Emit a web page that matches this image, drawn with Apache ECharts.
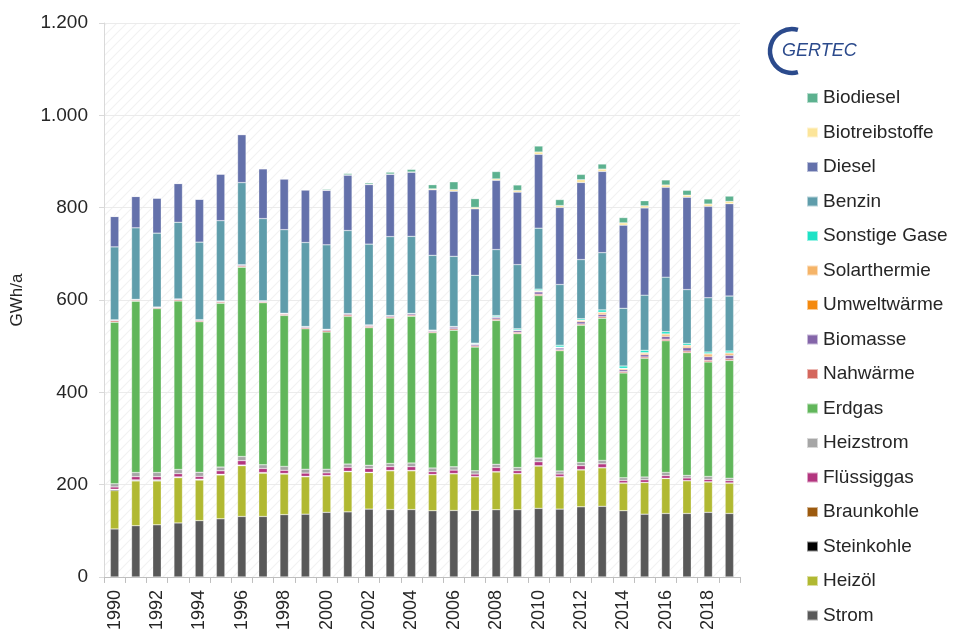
<!DOCTYPE html>
<html>
<head>
<meta charset="utf-8">
<script src="https://cdn.jsdelivr.net/npm/echarts@6/dist/echarts.min.js"></script>
<style>
html,body{margin:0;padding:0;background:#fff;}
#chart{width:955px;height:633px;}
</style>
</head>
<body>
<div id="chart"></div>
<script>
var years = [];
for (var y = 1990; y <= 2019; y++) years.push(String(y));

var strom = [104,111,113,117,122,126,131,131,135,136,140,141,147,146,146,143.5,144,144,145.6,145.6,148.5,147,152,153,143.5,136,137.5,137.5,140,137.5];
var heizoel = [83,97,95,98,88,95,110,94,88,81,79,87,79,84,84,78,79.5,73,82,78,92,70,80,83.5,60,68.5,76,71,66,66];
var steinkohle = [2,1.5,1.5,1.2,1.2,1,1,0.8,0.8,0.7,0.6,0.6,0.5,0.5,0.5,0.4,0.4,0.4,0.4,0.3,0.3,0.3,0.3,0.3,0.2,0.2,0.2,0.2,0.2,0.2];
var braunkohle = [1,0.8,0.8,0.6,0.6,0.5,0.5,0.4,0.4,0.3,0.3,0.3,0.3,0.3,0.3,0.2,0.2,0.2,0.2,0.2,0.2,0.2,0.2,0.2,0.1,0.1,0.1,0.1,0.1,0.1];
var fluessiggas = [5,7,7,7,6,7.5,9.5,8.8,6.8,7,5.6,8.6,8.2,8,8,5.9,7.4,5.4,9,6,8.5,5.5,8.5,8,5.2,5.7,5.7,5.7,5,4.7];
var heizstrom = [7,9,9,9,9,8,9,8,8.5,8.5,8,7,7,7,8,8,7,7,7,7,8,6.5,7,7.5,6,6,7,5.5,6.5,5.5];
var erdgas = [350,371,355,365,326,355,410,351,327,304,297,320,298,315,318,293,296,268,311.5,290,352,260.5,297.5,308,227,257,285,266,248,255];
var nahwaerme = [3,2,2,2.5,2.5,2.5,2.5,2,2.5,2.5,3,3,3,2.5,2.5,2.5,3,2.5,3,3,3,2,2.5,3,3,3,3.5,3.5,3.5,3.5];
var biomasse = [2,2,1.5,2,2,2,2.5,2,2,2,2.5,2.5,2.5,2.5,3,2.5,4,3.5,4,4,5,4,5,5,4,5,6,7,8,7.5];
var umweltwaerme = [0,0,0,0,0,0.2,0.2,0.2,0.2,0.3,0.3,0.3,0.3,0.3,0.3,0.4,0.5,0.5,0.5,0.5,1.5,1,2,3,2,2.5,3,3,3.5,3];
var solarthermie = [0,0,0,0,0,0.1,0.1,0.1,0.1,0.2,0.2,0.2,0.2,0.2,0.2,0.3,0.5,0.5,0.5,0.5,1.5,1,1.5,2,1,2,2.5,2.5,3,2.5];
var sonstigeGase = [0,0,0,0,0,0,0,0,0,0,0,0,0,0,0,0,0,1.5,2.5,2.5,3,4,3,5,5,5,5,4,3.5,4];
var benzin = [158,155,160,166,168,174,178,178,181,182,183,180,175,171,167,162,152,147,143,139,132,131.5,128,124,125,119.5,118,116.5,117.5,119];
var diesel = [66,68,76,84,93,101,104,108,110,114,118,120,129,135,139,142,141,144,150,157,160,167,167,176,180,189,194.5,200,198,200];
var biotreibstoffe = [0,0,0,0,0,0,0,0,0,0,0.5,0.5,0.5,0.5,0.5,2,3.5,3,3,3.5,5,4,6,5,5,4.5,5,4.5,5,5];
var biodiesel = [0,0,0,0,0,0,0,0,0,0,2,3,3,4,5.5,9,17,19,16,12,13,13,11.5,11,11.5,11,11,10.5,11,11.5];

var seriesDefs = [
  ['Strom', strom, '#595959'],
  ['Heizöl', heizoel, '#b1b932'],
  ['Steinkohle', steinkohle, '#000000'],
  ['Braunkohle', braunkohle, '#9c5a0e'],
  ['Flüssiggas', fluessiggas, '#b3357f'],
  ['Heizstrom', heizstrom, '#a6a6a6'],
  ['Erdgas', erdgas, '#61b65b'],
  ['Nahwärme', nahwaerme, '#d4665c'],
  ['Biomasse', biomasse, '#8465a9'],
  ['Umweltwärme', umweltwaerme, '#f4890e'],
  ['Solarthermie', solarthermie, '#f5b468'],
  ['Sonstige Gase', sonstigeGase, '#1ee2c6'],
  ['Benzin', benzin, '#5f9dab'],
  ['Diesel', diesel, '#6471ab'],
  ['Biotreibstoffe', biotreibstoffe, '#fce59a'],
  ['Biodiesel', biodiesel, '#5cb18f']
];

// hatch pattern for plot background
var pc = document.createElement('canvas');
pc.width = 10; pc.height = 10;
var ctx = pc.getContext('2d');
ctx.fillStyle = '#ffffff';
ctx.fillRect(0,0,10,10);
ctx.strokeStyle = '#f2f2f2';
ctx.lineWidth = 1.2;
ctx.beginPath();
ctx.moveTo(0,10); ctx.lineTo(10,0);
ctx.moveTo(-5,5); ctx.lineTo(5,-5);
ctx.moveTo(5,15); ctx.lineTo(15,5);
ctx.stroke();

var chart = echarts.init(document.getElementById('chart'), null, {renderer:'canvas'});

var series = seriesDefs.map(function(d){
  return {
    name: d[0],
    type: 'bar',
    stack: 'total',
    data: d[1],
    barWidth: '40%',
    itemStyle: {color: d[2], borderColor: 'rgba(255,255,255,0.55)', borderWidth: 0.5},
    emphasis: {disabled: true}
  };
});

var legendData = seriesDefs.map(function(d){return d[0];}).reverse();
var FONT = 'Liberation Sans, Arial, sans-serif';

chart.setOption({
  animation: false,
  textStyle: {fontFamily: FONT},
  grid: {left: 104, right: 215, top: 23, bottom: 55, show: true, borderWidth: 0,
         backgroundColor: {image: pc, repeat: 'repeat'}},
  legend: {
    orient: 'vertical',
    left: 806,
    top: 88,
    padding: 0,
    height: 545,
    itemWidth: 11,
    itemHeight: 10,
    itemGap: 14.5,
    icon: 'rect',
    data: legendData,
    selectedMode: false,
    textStyle: {fontSize: 19, color: '#262626', lineHeight: 20, fontFamily: FONT}
  },
  xAxis: {
    type: 'category',
    data: years,
    axisLine: {lineStyle: {color: '#bfbfbf', width: 1}},
    axisTick: {show: true, interval: 0, length: 6, lineStyle: {color: '#bfbfbf'}},
    axisLabel: {rotate: 90, interval: 1, fontSize: 18, color: '#262626', margin: 13},
    splitLine: {show: false}
  },
  yAxis: {
    type: 'value',
    min: 0, max: 1200, interval: 200,
    name: 'GWh/a',
    nameLocation: 'middle',
    nameGap: 78,
    nameRotate: 90,
    nameTextStyle: {fontSize: 17, color: '#262626'},
    axisLine: {show: true, lineStyle: {color: '#d9d9d9'}},
    axisTick: {show: true, length: 5, lineStyle: {color: '#d9d9d9'}},
    axisLabel: {fontSize: 19, color: '#262626', margin: 16,
      formatter: function(v){ return v >= 1000 ? String(v).replace(/(\d)(\d{3})$/, '$1.$2') : String(v); }},
    splitLine: {show: true, lineStyle: {color: '#ebebeb', width: 1}}
  },
  graphic: [
    {type: 'arc', shape: {cx: 792, cy: 51, r: 22, startAngle: -1.3, endAngle: 1.3, clockwise: false},
     style: {stroke: '#2b4a8c', lineWidth: 4.5, fill: null}},
    {type: 'text', left: 782, top: 42,
     style: {text: 'GERTEC', fontSize: 18, fontStyle: 'italic', fill: '#2b4a8c', fontFamily: FONT}}
  ],
  series: series
});
</script>
</body>
</html>
